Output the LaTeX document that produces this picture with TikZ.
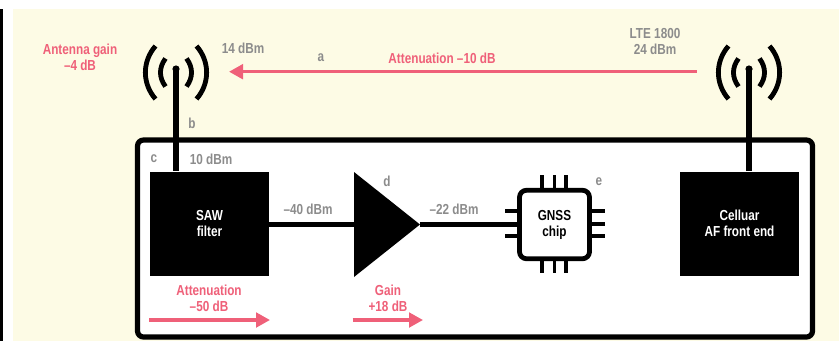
\documentclass[tikz,border=0pt]{standalone}
\usepackage{fontspec}
\setmainfont[FakeStretch=0.81,BoldFont={Liberation Sans Bold}]{Liberation Sans}
\usetikzlibrary{arrows.meta}
\definecolor{cream}{HTML}{FDFBE5}
\definecolor{pinkred}{HTML}{EF6079}
\definecolor{greytxt}{HTML}{8C8C8C}
\tikzset{
  x=1pt,y=-1pt,
  lbl/.style={font=\bfseries\fontsize{14.5}{16}\selectfont,align=center,inner sep=0pt},
  greylbl/.style={lbl,text=greytxt},
  pinklbl/.style={lbl,text=pinkred},
  blockbox/.style={fill=black,text=white,lbl,minimum width=119pt,minimum height=104pt},
  wire/.style={line width=5.4pt,black},
  pin/.style={line width=3.8pt,black},
  pinkarrow/.style={line width=3.4pt,pinkred,-{Triangle[length=14pt,width=14.5pt]}},
  antenna arcs/.pic={
    \draw[line width=4.8pt] (-20.5,-26.5) .. controls (-34,-11) and (-34,11) .. (-20.5,26.5);
    \draw[line width=4.8pt] (-10.5,-14) .. controls (-17.2,-5) and (-17.2,5) .. (-10.5,14);
    \draw[line width=4.8pt] (20.5,-26.5) .. controls (34,-11) and (34,11) .. (20.5,26.5);
    \draw[line width=4.8pt] (10.5,-14) .. controls (17.2,-5) and (17.2,5) .. (10.5,14);
  }
}
\begin{document}
\begin{tikzpicture}
\useasboundingbox (0,0) rectangle (839,341);
\fill[white] (0,0) rectangle (839,341);
\fill[cream] (13,9) rectangle (839,341);
\fill[black] (0,9) rectangle (2.6,341);
\draw[line width=5.2pt,fill=white,rounded corners=6pt] (137.5,140) rectangle (812.5,337);

% blocks
\node[blockbox] (saw) at (209.5,223.5) {SAW\\filter};
\node[blockbox] (cell) at (739.5,223.5) {Celluar\\AF front end};
\fill[black] (354,172) coordinate (ampa) -- (354,277) -- (420,224.5) coordinate (ampo) -- cycle;
\coordinate (ampi) at (354,224.5);
\node[draw,line width=4.8pt,rounded corners=7pt,minimum width=70pt,minimum height=68.5pt,inner sep=0pt,lbl,text=black] (chip) at (554.5,224.5) {GNSS\\chip};

% wires
\draw[wire] (saw.east |- ampi) -- (ampi);
\draw[wire] (ampo) -- (chip.west);

% chip pins
\foreach \px in {542,554.5,566}{
  \draw[pin] (\px,175) -- (\px,189);
  \draw[pin] (\px,260) -- (\px,273);
}
\foreach \py in {211,236}{
  \draw[pin] (505,\py) -- (518,\py);
}
\foreach \py in {211,224,236}{
  \draw[pin] (591,\py) -- (604.5,\py);
}

% antennas
\coordinate (antl) at (176,69);
\coordinate (antr) at (749,69);
\draw[line width=5.2pt] (antl) -- (antl |- saw.north);
\fill (antl) circle (3.6);
\draw[line width=5.2pt] (antr) -- (antr |- cell.north);
\fill (antr) circle (3.6);
\pic at (176,72.5) {antenna arcs};
\pic at (749,72.5) {antenna arcs};

% pink arrows
\coordinate (a1s) at (696.5,71.7);
\coordinate (a1e) at (229,71.7);
\coordinate (a2s) at (149,320);
\coordinate (a2e) at (270,320);
\coordinate (a3s) at (352.7,320);
\coordinate (a3e) at (423,320);
\draw[pinkarrow] (a1s) -- (a1e);
\draw[pinkarrow] (a2s) -- (a2e);
\draw[pinkarrow] (a3s) -- (a3e);

% labels
\node[pinklbl] (tgain) at (80,57) {Antenna gain\\–4 dB};
\node[greylbl] (t14) at (243,48.5) {14 dBm};
\node[greylbl] (ta) at (321,58) {a};
\node[pinklbl] (tatt) at (442,58) {Attenuation –10 dB};
\node[greylbl] (tlte) at (655,42) {LTE 1800\\24 dBm};
\node[greylbl] (tb) at (192,123) {b};
\node[greylbl] (tc) at (154,159) {c};
\node[greylbl] (t10) at (211,159) {10 dBm};
\node[greylbl] (t40) at (308,209) {–40 dBm};
\node[greylbl] (td) at (387,181) {d};
\node[greylbl] (t22) at (454,209) {–22 dBm};
\node[greylbl] (te) at (599,182) {e};
\node[pinklbl] (tatt2) at (209,298.5) {Attenuation\\–50 dB};
\node[pinklbl] (tg) at (388,298.5) {Gain\\+18 dB};
\end{tikzpicture}
\end{document}
